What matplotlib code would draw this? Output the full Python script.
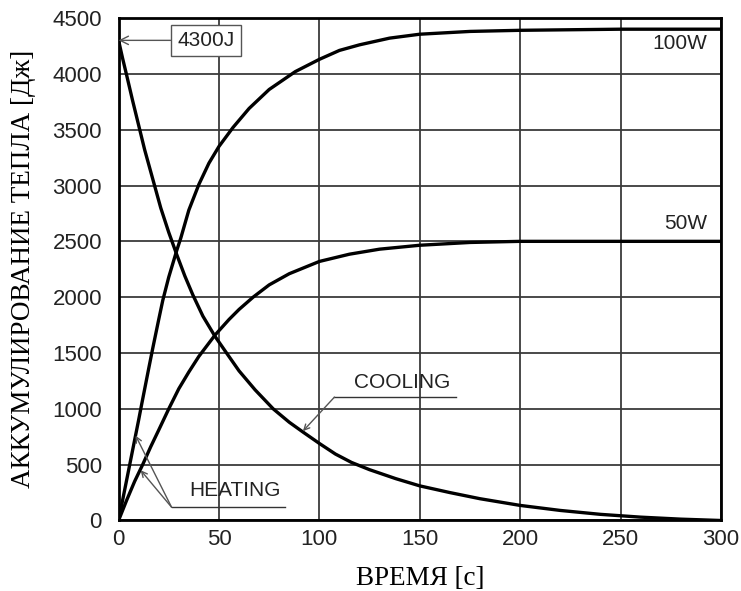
import matplotlib
matplotlib.use('Agg')
import matplotlib.pyplot as plt

# Data
t_100w = [0, 5, 7, 10, 11.5, 15, 17, 20, 22, 25, 29, 31, 35, 40, 45, 50, 57, 65, 75, 88,
          100, 110, 120, 135, 150, 175, 200, 250, 300]
e_100w = [0, 450, 630, 900, 1040, 1360, 1540, 1800, 1970, 2180, 2420, 2530, 2780, 3010, 3200, 3350,
          3520, 3690, 3860, 4020, 4130, 4210, 4260, 4320, 4355, 4380, 4390, 4400, 4400]

t_50w = [0, 4, 8, 12, 16, 20, 25, 30, 35, 40, 48, 55, 60, 67, 75, 85, 100, 115, 130, 150, 175,
         200, 300]
e_50w = [0, 180, 350, 500, 660, 810, 1000, 1180, 1330, 1470, 1660, 1800, 1890, 2000, 2110, 2210,
         2320, 2385, 2430, 2465, 2490, 2500, 2500]

t_cool = [0, 2, 4, 7, 10, 13, 17, 21, 25, 29, 33, 37, 42, 48, 53, 60, 68, 77, 85, 92, 100, 108,
          116, 125, 138, 150, 165, 180, 200, 220, 240, 260, 280, 300]
e_cool = [4300, 4140, 3990, 3760, 3540, 3320, 3060, 2800, 2580, 2380, 2190, 2020, 1830, 1650, 1520,
          1340, 1170, 1000, 880, 790, 690, 595, 520, 455, 375, 310, 250, 195, 135, 90, 55, 30, 12, 0]

x_ticks = [0, 50, 100, 150, 200, 250, 300]
y_ticks = [0, 500, 1000, 1500, 2000, 2500, 3000, 3500, 4000, 4500]

x_label = 'ВРЕМЯ [с]'
y_label = 'АККУМУЛИРОВАНИЕ ТЕПЛА [Дж]'

sans = ['Liberation Sans', 'DejaVu Sans']
serif = ['Liberation Serif', 'DejaVu Serif']
txt_size = 15

fig = plt.figure(figsize=(7.41, 5.91), dpi=100)
ax = fig.add_axes([0.160, 0.1193, 0.813, 0.8502])

for tt, ee in ((t_100w, e_100w), (t_50w, e_50w), (t_cool, e_cool)):
    ax.plot(tt, ee, color='black', lw=2.4, solid_joinstyle='round', solid_capstyle='round', zorder=3)

ax.set_xlim(0, 300)
ax.set_ylim(0, 4500)
ax.set_xticks(x_ticks)
ax.set_yticks(y_ticks)
ax.grid(True, color='#3a3a3a', lw=1.3)
ax.set_axisbelow(True)
for s in ax.spines.values():
    s.set_linewidth(2.0)
    s.set_color('black')
ax.tick_params(axis='y', length=0, pad=12, labelsize=16)
ax.tick_params(axis='x', length=0, pad=6, labelsize=16)
for lab in ax.get_xticklabels() + ax.get_yticklabels():
    lab.set_fontfamily(sans)
    lab.set_color('#222222')

ax.set_xlabel(x_label, fontfamily=serif, fontsize=19.5, labelpad=12)
ax.set_ylabel(y_label, fontfamily=serif, fontsize=19.5, labelpad=12)

# Annotations
ax.annotate('4300J', xy=(0, 4300), xytext=(43.5, 4300), fontfamily=sans, fontsize=txt_size,
            ha='center', va='center', color='#222222',
            bbox=dict(boxstyle='square,pad=0.3', fc='white', ec='#555555', lw=1.0),
            arrowprops=dict(arrowstyle='->', color='#555555', lw=1.0, shrinkA=0, shrinkB=0),
            zorder=5)

ax.text(293, 4272, '100W', fontfamily=sans, fontsize=txt_size, ha='right', va='center', color='#222222')
ax.text(293, 2660, '50W', fontfamily=sans, fontsize=txt_size, ha='right', va='center', color='#222222')

# COOLING label with underline leader
ax.text(141, 1240, 'COOLING', fontfamily=sans, fontsize=txt_size, ha='center', va='center', color='#222222')
ax.plot([107.5, 168], [1105, 1105], color='#333333', lw=1.0, zorder=4)
ax.annotate('', xy=(91.8, 800), xytext=(107.5, 1105),
            arrowprops=dict(arrowstyle='->', color='#555555', lw=1.0, shrinkA=0, shrinkB=0), zorder=4)

# HEATING label with underline leader and two arrows
ax.text(58, 270, 'HEATING', fontfamily=sans, fontsize=txt_size, ha='center', va='center', color='#222222')
ax.plot([26.4, 82.7], [119, 119], color='#333333', lw=1.0, zorder=4)
ax.annotate('', xy=(8.5, 760), xytext=(26.4, 119),
            arrowprops=dict(arrowstyle='->', color='#555555', lw=1.0, shrinkA=0, shrinkB=0), zorder=4)
ax.annotate('', xy=(11.0, 450), xytext=(26.4, 119),
            arrowprops=dict(arrowstyle='->', color='#555555', lw=1.0, shrinkA=0, shrinkB=0), zorder=4)

fig.savefig('out.png', dpi=100)
